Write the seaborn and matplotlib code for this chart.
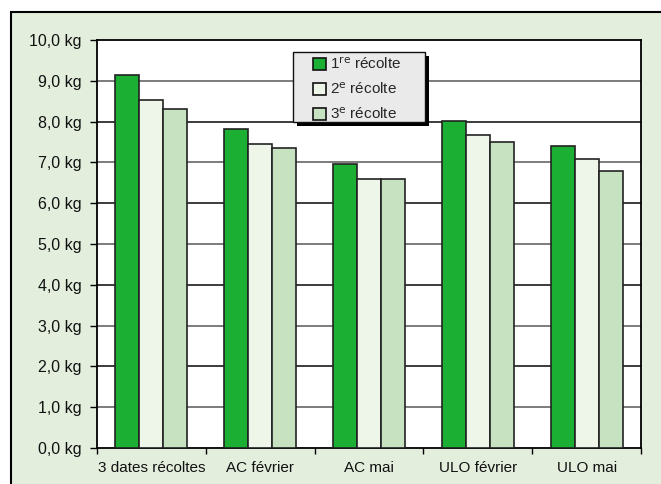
import pandas as pd
import numpy as np
import matplotlib.pyplot as plt
import seaborn as sns
from matplotlib.patches import Rectangle
from matplotlib.ticker import FuncFormatter, FixedLocator

# Data
categories = ['3 dates récoltes', 'AC février', 'AC mai', 'ULO février', 'ULO mai']
recolte_1 = [9.15, 7.82, 6.97, 8.01, 7.41]
recolte_2 = [8.53, 7.46, 6.60, 7.66, 7.09]
recolte_3 = [8.30, 7.35, 6.60, 7.50, 6.80]
series_names = ['1$^{\\mathrm{re}}$ récolte', '2$^{\\mathrm{e}}$ récolte', '3$^{\\mathrm{e}}$ récolte']
colors = ['#1bb034', '#eef6ea', '#c6e2c0']

df = pd.DataFrame({
    'cat': categories * 3,
    'val': recolte_1 + recolte_2 + recolte_3,
    'serie': [series_names[0]] * 5 + [series_names[1]] * 5 + [series_names[2]] * 5,
})

sns.set_style('white')
plt.rcParams['font.family'] = ['Liberation Sans', 'DejaVu Sans']
plt.rcParams['mathtext.default'] = 'regular'

fig = plt.figure(figsize=(6.61, 4.84), dpi=100)
fig.patch.set_facecolor('white')
# outer framed panel
fig.patches.append(Rectangle((11 / 661, -0.05), 1.0, 1 - 12 / 484 + 0.05,
                             transform=fig.transFigure, facecolor='#e3eedd',
                             edgecolor='black', linewidth=1.5, zorder=-10))

ax = fig.add_axes([97 / 661, 1 - 448 / 484, 544 / 661, 408 / 484])
ax.set_facecolor('white')

sns.barplot(data=df, x='cat', y='val', hue='serie', palette=colors,
            width=0.66, gap=0, edgecolor='#222222', linewidth=1.2,
            saturation=1, ax=ax, zorder=3)

ax.set_ylim(0, 10)
ax.set_xlim(-0.5, 4.5)
ax.set_yticks(np.arange(0, 10.5, 1))
ax.yaxis.set_major_formatter(FuncFormatter(lambda v, p: f'{v:.1f}'.replace('.', ',') + ' kg'))
for i, y in enumerate(np.arange(1, 10, 1)):
    ax.axhline(y, color='#1a1a1a' if i % 2 else '#666666', linewidth=1.2, zorder=1)

ax.set_xlabel('')
ax.set_ylabel('')
ax.xaxis.set_minor_locator(FixedLocator(np.arange(-0.5, 5, 1)))
ax.tick_params(axis='x', which='major', length=0, pad=9, labelsize=11)
ax.tick_params(axis='x', which='minor', length=4, width=1, color='black', direction='out', bottom=True)
ax.tick_params(axis='y', length=5, width=1, color='black', direction='out', left=True, labelsize=11.5, pad=6)
for lab in ax.get_xticklabels() + ax.get_yticklabels():
    lab.set_color('#111111')

for s in ax.spines.values():
    s.set_color('black')
    s.set_linewidth(1.3)

# legend box with black drop shadow, drawn in axes coordinates
bx0, bx1 = 196 / 544, 328 / 544
by0, by1 = 1 - 82 / 408, 1 - 12 / 408
ax.add_patch(Rectangle((bx0 + 4 / 544, by0 - 4 / 408), bx1 - bx0, by1 - by0,
                       transform=ax.transAxes, facecolor='black', edgecolor='none', zorder=6))
ax.add_patch(Rectangle((bx0, by0), bx1 - bx0, by1 - by0, transform=ax.transAxes,
                       facecolor='#eaeaea', edgecolor='#111111', linewidth=1, zorder=7))
leg = ax.legend(loc='center', bbox_to_anchor=((bx0 + bx1) / 2 - 2 / 544, (by0 + by1) / 2 - 2 / 408),
                frameon=False, fontsize=11, handlelength=0.85, handleheight=0.85,
                handletextpad=0.25, labelspacing=0.6, borderpad=0, borderaxespad=0)
leg.set_zorder(8)
for h in leg.legend_handles:
    h.set_edgecolor('#111111')
    h.set_linewidth(1.2)

plt.savefig('out.png', dpi=100)
